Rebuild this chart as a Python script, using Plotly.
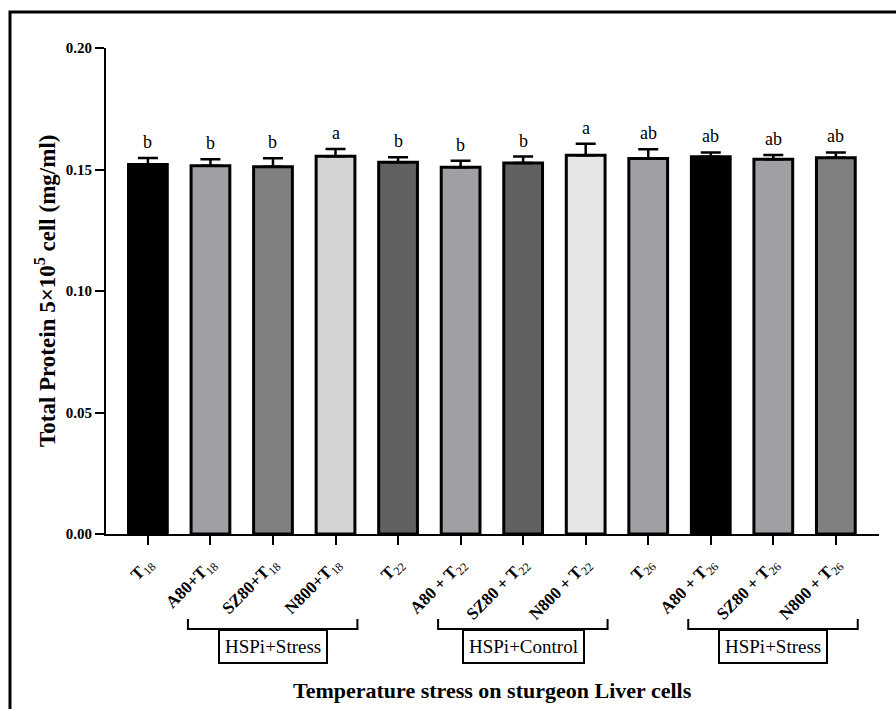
import plotly.graph_objects as go

categories = ["T18", "A80+T18", "SZ80+T18", "N800+T18", "T22", "A80 + T22",
              "SZ80 + T22", "N800 + T22", "T26", "A80 + T26", "SZ80 + T26", "N800 + T26"]
tick_labels = ["<b>T</b><sub>18</sub>", "<b>A80+T</b><sub>18</sub>", "<b>SZ80+T</b><sub>18</sub>",
               "<b>N800+T</b><sub>18</sub>", "<b>T</b><sub>22</sub>", "<b>A80 + T</b><sub>22</sub>",
               "<b>SZ80 + T</b><sub>22</sub>", "<b>N800 + T</b><sub>22</sub>", "<b>T</b><sub>26</sub>",
               "<b>A80 + T</b><sub>26</sub>", "<b>SZ80 + T</b><sub>26</sub>", "<b>N800 + T</b><sub>26</sub>"]
means = [0.1521, 0.1515, 0.1511, 0.1555, 0.1530, 0.1509, 0.1527, 0.1559, 0.1545, 0.1552, 0.1542, 0.1548]
errors = [0.0026, 0.0027, 0.0035, 0.0029, 0.0020, 0.0027, 0.0026, 0.0047, 0.0038, 0.0018, 0.0018, 0.0022]
letters = ["b", "b", "b", "a", "b", "b", "b", "a", "ab", "ab", "ab", "ab"]
bar_colors = ["#000000", "#a0a0a4", "#808080", "#d4d4d4", "#616161", "#a0a0a4",
              "#616161", "#e6e6e6", "#a0a0a4", "#000000", "#a0a0a4", "#808080"]
groups = [("HSPi+Stress", 1, 3), ("HSPi+Control", 5, 7), ("HSPi+Stress", 9, 11)]
y_ticks = [0.00, 0.05, 0.10, 0.15, 0.20]

SERIF = "Liberation Serif, Times New Roman, serif"
x_idx = list(range(len(categories)))

fig = go.Figure()
fig.add_trace(go.Bar(
    x=x_idx, y=means, width=0.62,
    marker=dict(color=bar_colors, line=dict(color="black", width=3)),
    error_y=dict(type="data", symmetric=False, array=errors, arrayminus=[0] * len(errors),
                 color="black", thickness=2.5, width=10),
    hovertext=categories, showlegend=False,
))

annotations = []
for i, (m, e, t) in enumerate(zip(means, errors, letters)):
    annotations.append(dict(x=i, y=m + e, xref="x", yref="y", text=t, showarrow=False,
                            yanchor="bottom", yshift=4,
                            font=dict(family=SERIF, size=18, color="black")))

shapes = []
y_leg_top = -0.1749
y_bracket = -0.1955
for name, a, b in groups:
    x0, x1 = a - 0.36, b + 0.35
    shapes.append(dict(type="path", xref="x", yref="paper",
                       path=f"M {x0},{y_leg_top} L {x0},{y_bracket} L {x1},{y_bracket} L {x1},{y_leg_top}",
                       line=dict(color="black", width=2)))
    annotations.append(dict(x=(a + b) / 2, y=y_bracket, xref="x", yref="paper", text=name,
                            showarrow=False, xanchor="center", yanchor="top",
                            bordercolor="black", borderwidth=2, borderpad=5, bgcolor="white",
                            font=dict(family=SERIF, size=19, color="black")))

annotations.append(dict(x=0.5, y=-0.321, xref="paper", yref="paper",
                        text="<b>Temperature stress on sturgeon Liver cells</b>",
                        showarrow=False, xanchor="center", yanchor="middle",
                        font=dict(family=SERIF, size=22, color="black")))
annotations.append(dict(x=-0.0789, y=0.5, xref="paper", yref="paper",
                        text="<b>Total Protein 5×10<sup>5</sup> cell (mg/ml)</b>",
                        showarrow=False, xanchor="center", yanchor="middle", textangle=-90,
                        font=dict(family=SERIF, size=23, color="black")))

# outer frame (left and top edges visible in the reference)
shapes.append(dict(type="path", xref="paper", yref="paper",
                   path="M -0.1242,-0.4 L -0.1242,1.074 L 1.03,1.074",
                   line=dict(color="black", width=3), layer="above"))

fig.update_layout(
    width=896, height=709,
    margin=dict(l=106, r=17, t=48, b=175),
    paper_bgcolor="white", plot_bgcolor="white",
    shapes=shapes, annotations=annotations,
    xaxis=dict(range=[-0.67, 11.69], tickmode="array", tickvals=x_idx, ticktext=tick_labels,
               tickangle=-45, ticks="outside", ticklen=9, tickwidth=2, tickcolor="black",
               ticklabelstandoff=2,
               showline=True, linecolor="black", linewidth=2, showgrid=False, zeroline=False,
               tickfont=dict(family=SERIF, size=17, color="black")),
    yaxis=dict(range=[0, 0.2], tickmode="array", tickvals=y_ticks,
               ticktext=[f"<b>{v:.2f}</b>" for v in y_ticks],
               ticks="outside", ticklen=9, tickwidth=2, tickcolor="black",
               showline=True, linecolor="black", linewidth=2, showgrid=False, zeroline=False,
               tickfont=dict(family=SERIF, size=15, color="black")),
)

fig.write_html(
    "out.html",
    config={"displayModeBar": False},
    post_script="document.body.style.margin='0';document.body.style.overflow='hidden';",
)
